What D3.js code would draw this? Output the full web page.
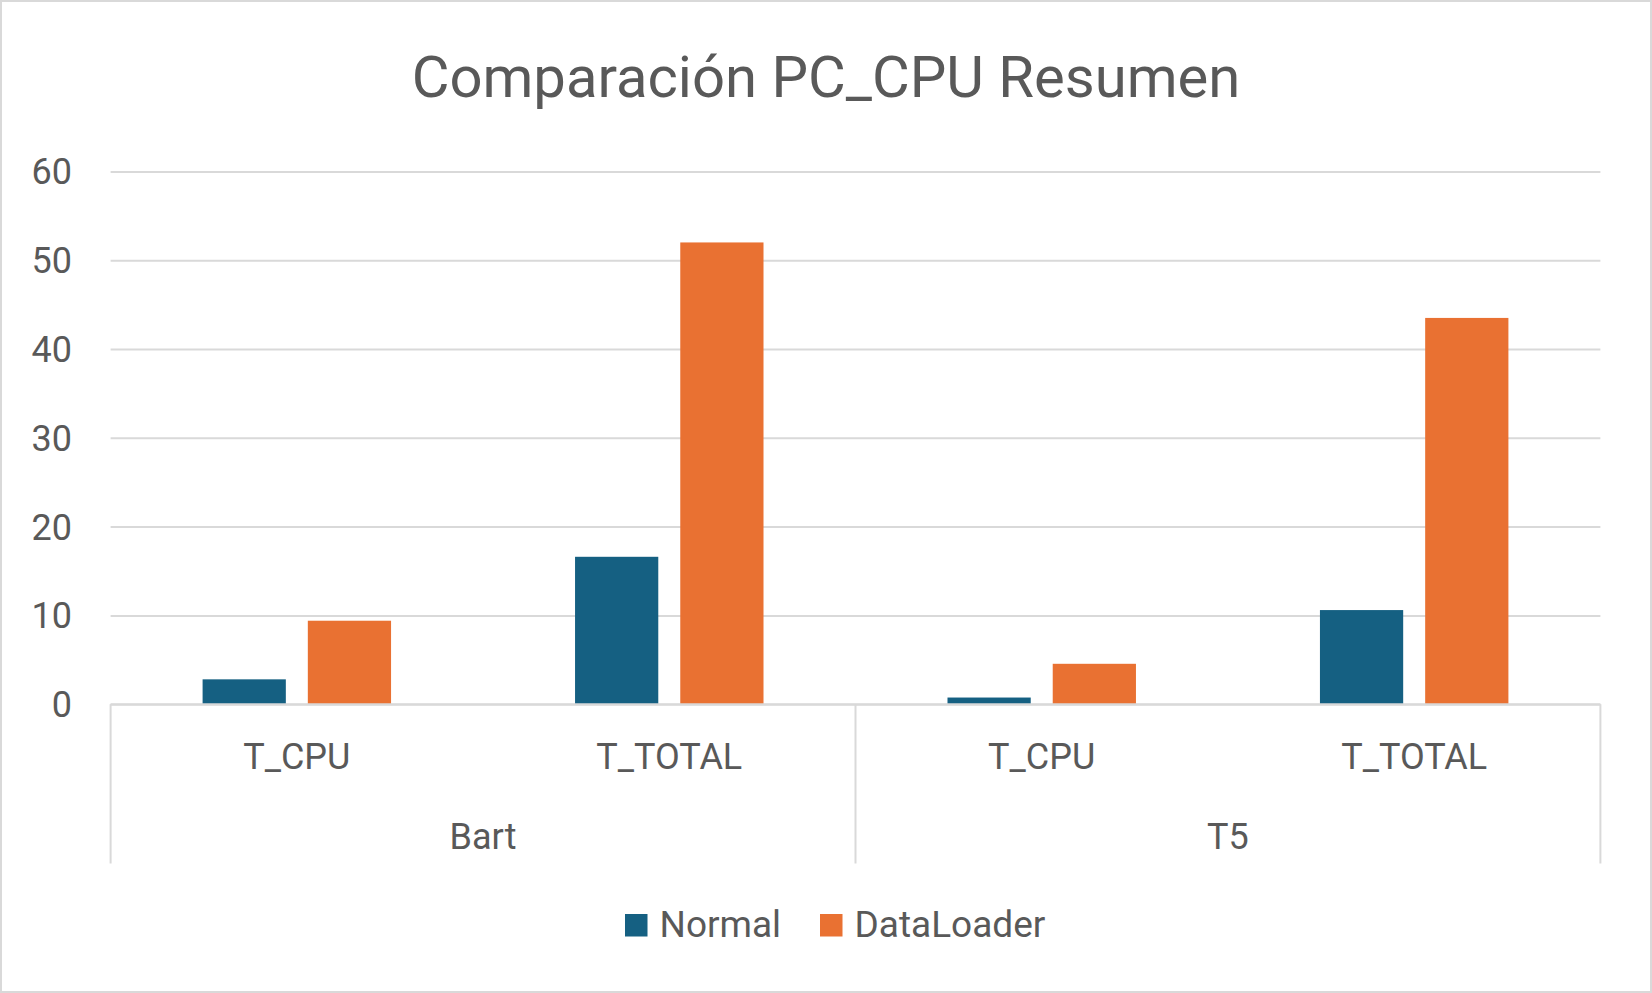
<!DOCTYPE html>
<html>
<head>
<meta charset="utf-8">
<script src="https://cdn.jsdelivr.net/npm/d3@7"></script>
<style>
  html, body { margin: 0; padding: 0; background: #fff; }
  svg { display: block; }
  text { font-family: Roboto, "Open Sans", sans-serif; fill: #595959; }
</style>
</head>
<body>
<svg id="chart" width="1652" height="993"></svg>
<script>
const title = "Comparación PC_CPU Resumen";
const groups = ["Bart", "T5"];
const categories = ["T_CPU", "T_TOTAL"];
const series = ["Normal", "DataLoader"];
const normalValues = [2.8, 16.6, 0.75, 10.6];
const dataLoaderValues = [9.4, 52.0, 4.55, 43.5];
const yTicks = [0, 10, 20, 30, 40, 50, 60];
const colors = ["#156082", "#E97132"];

const W = 1652, H = 993;
const plot = { left: 110.6, right: 1600.4, top: 171.4, bottom: 704.2 };

const rows = [];
groups.forEach((g, gi) => categories.forEach((c, ci) => {
  const i = gi * categories.length + ci;
  rows.push({ key: g + "|" + c, group: g, cat: c, values: [normalValues[i], dataLoaderValues[i]] });
}));

const svg = d3.select("#chart");

// outer border
svg.append("rect").attr("x", 1).attr("y", 1).attr("width", W - 2).attr("height", H - 2)
  .attr("fill", "#fff").attr("stroke", "#d9d9d9").attr("stroke-width", 2);

// title
svg.append("text").attr("x", W / 2).attr("y", 96.5).attr("text-anchor", "middle")
  .attr("font-size", 58).text(title);

const y = d3.scaleLinear().domain([0, 60]).range([plot.bottom, plot.top]);
const x0 = d3.scaleBand().domain(rows.map(r => r.key)).range([plot.left, plot.right])
  .paddingInner(0.494).paddingOuter(0.247);
const x1 = d3.scaleBand().domain(series).range([0, x0.bandwidth()]).paddingInner(0.209).paddingOuter(0);
const xg = d3.scaleBand().domain(groups).range([plot.left, plot.right]);

// gridlines
const yAxis = d3.axisLeft(y).tickValues(yTicks).tickSize(-(plot.right - plot.left)).tickFormat("");
const gGrid = svg.append("g").attr("transform", `translate(${plot.left},0)`).call(yAxis);
gGrid.select(".domain").remove();
gGrid.selectAll(".tick line").attr("stroke", "#d9d9d9").attr("stroke-width", 2);

// y labels
svg.append("g").selectAll("text").data(yTicks).join("text")
  .attr("x", 72).attr("y", d => y(d)).attr("dy", "0.36em").attr("text-anchor", "end")
  .attr("font-size", 36).text(d => d);

// bars
const gBars = svg.append("g");
rows.forEach(r => {
  gBars.append("g").attr("transform", `translate(${x0(r.key)},0)`)
    .selectAll("rect").data(r.values.map((v, i) => ({ s: series[i], v, i }))).join("rect")
    .attr("x", d => x1(d.s)).attr("width", x1.bandwidth())
    .attr("y", d => y(d.v)).attr("height", d => y(0) - y(d.v))
    .attr("fill", d => colors[d.i]);
});

// category axis line
svg.append("line").attr("x1", plot.left).attr("x2", plot.right)
  .attr("y1", y(0)).attr("y2", y(0)).attr("stroke", "#d9d9d9").attr("stroke-width", 2);

// group dividers
const dividerX = [plot.left].concat(groups.map(g => xg(g) + xg.bandwidth()));
svg.append("g").selectAll("line").data(dividerX).join("line")
  .attr("x1", d => d).attr("x2", d => d).attr("y1", y(0)).attr("y2", 863.5)
  .attr("stroke", "#d9d9d9").attr("stroke-width", 2);

// category labels
svg.append("g").selectAll("text").data(rows).join("text")
  .attr("x", r => x0(r.key) + x0.bandwidth() / 2).attr("y", 769.3)
  .attr("text-anchor", "middle").attr("font-size", 36).text(r => r.cat);

// group labels
svg.append("g").selectAll("text").data(groups).join("text")
  .attr("x", g => xg(g) + xg.bandwidth() / 2).attr("y", 849.3)
  .attr("text-anchor", "middle").attr("font-size", 36).text(g => g);

// legend
const legendX = [625, 820];
const leg = svg.append("g").selectAll("g").data(series).join("g")
  .attr("transform", (d, i) => `translate(${legendX[i]},914)`);
leg.append("rect").attr("width", 22.5).attr("height", 22.5).attr("fill", (d, i) => colors[i]);
leg.append("text").attr("x", 34.5).attr("y", 22.7).attr("font-size", 37).text(d => d);
</script>
</body>
</html>
